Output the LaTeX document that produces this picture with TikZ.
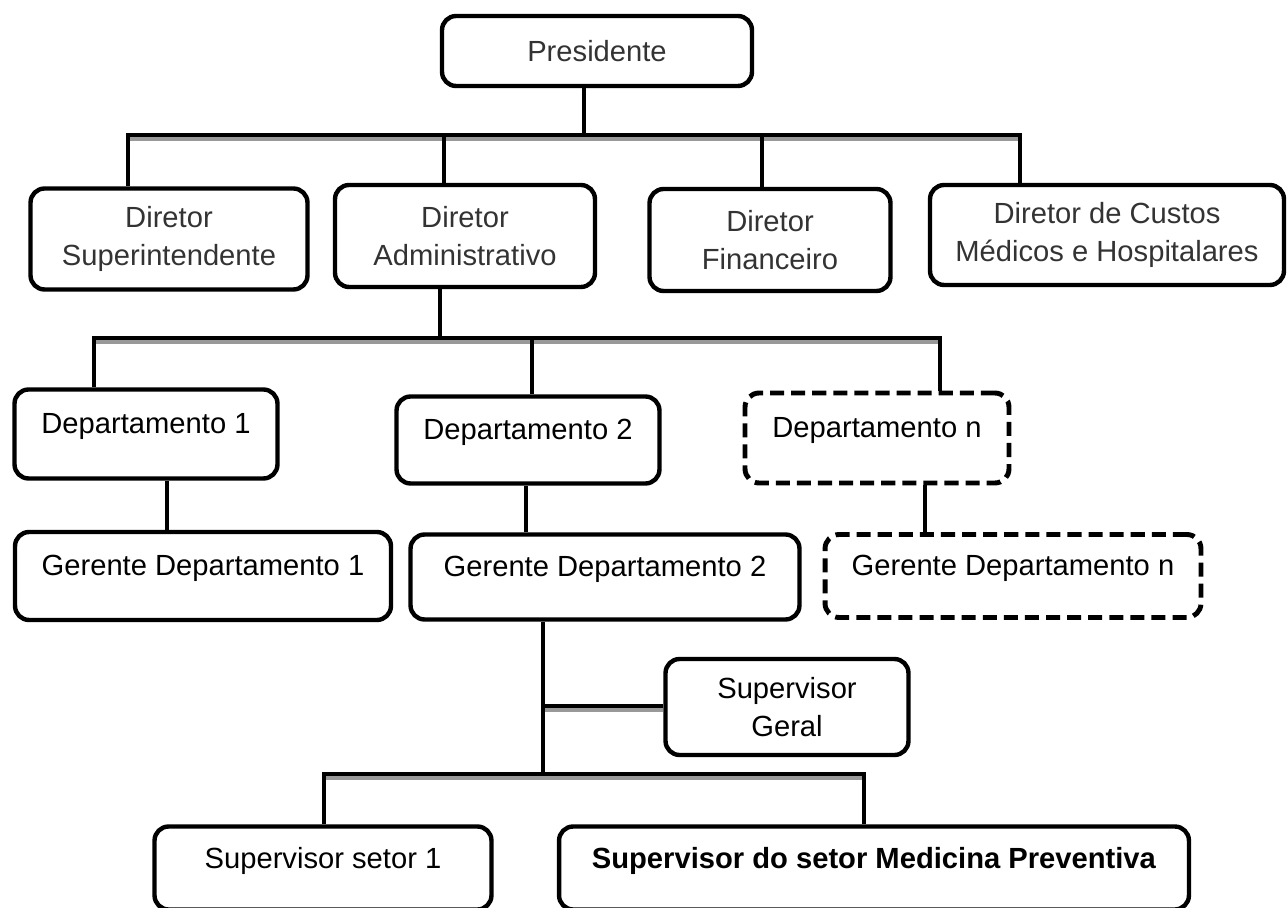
\documentclass[tikz,border=0pt]{standalone}
\usepackage{fontspec}
\setmainfont{Liberation Sans}

\begin{document}
\begin{tikzpicture}[
  x=0.02cm, y=-0.02cm,
  font=\fontsize{16.6}{21.6}\selectfont,
  box/.style={
    draw, line width=2.5pt, rounded corners=8pt,
    align=center, inner sep=0pt
  },
  dir/.style={box, text=black!80},
  upper/.style={box, text height=12pt, text depth=12pt},
  dashbox/.style={upper, line width=2.8pt, dash pattern=on 8pt off 4pt},
  edge/.style={line width=2.3pt},
  bus/.style={line width=2.6pt},
  busshade/.style={line width=2.3pt, color=black!40},
]
\useasboundingbox (0,0) rectangle (1288,908);

%%% Presidente and directors
\node[dir, minimum width=6.2cm, minimum height=1.4cm]  (pres) at (597,51)  {Presidente};
\node[dir, minimum width=5.54cm, minimum height=2.02cm] (sup) at (169,239) {Diretor\\Superintendente};
\node[dir, minimum width=5.2cm, minimum height=2.04cm]  (adm) at (465,236) {Diretor\\Administrativo};
\node[dir, minimum width=4.82cm, minimum height=2.04cm] (fin) at (770,240) {Diretor\\Financeiro};
\node[dir, minimum width=7.08cm, minimum height=2.0cm]  (cus) at (1107,235) {Diretor de Custos\\Médicos e Hospitalares};

%%% Departments
\node[upper, minimum width=5.26cm, minimum height=1.78cm] (d1) at (146,434) {Departamento 1};
\node[upper, minimum width=5.26cm, minimum height=1.74cm] (d2) at (528,440) {Departamento 2};
\node[dashbox, minimum width=5.28cm, minimum height=1.8cm] (dn) at (877,438) {Departamento n};

%%% Managers
\node[upper, minimum width=7.52cm, minimum height=1.76cm] (g1) at (203,576) {Gerente Departamento 1};
\node[upper, minimum width=7.78cm, minimum height=1.7cm]  (g2) at (605,577) {Gerente Departamento 2};
\node[dashbox, minimum width=7.52cm, minimum height=1.66cm] (gn) at (1013,576) {Gerente Departamento n};

%%% Supervisors
\node[box, minimum width=4.86cm, minimum height=1.92cm] (sg) at (787,707) {Supervisor\\Geral};
\node[upper, minimum width=6.74cm, minimum height=1.66cm] (s1) at (323,868) {Supervisor setor 1};
\node[upper, minimum width=12.6cm, minimum height=1.66cm] (smp) at (874,868) {\textbf{Supervisor do setor Medicina Preventiva}};

%%% Junctions
\coordinate (t0) at (584,135);
\coordinate (t1) at (128,135);
\coordinate (t2) at (444,135);
\coordinate (t3) at (762,135);
\coordinate (t4) at (1020,135);
\coordinate (a0) at (440,338);
\coordinate (a1) at (94,338);
\coordinate (a2) at (532,338);
\coordinate (a3) at (940,338);
\coordinate (k1) at (167,500);
\coordinate (k2) at (526,500);
\coordinate (k3) at (925,500);
\coordinate (m0) at (543,774);
\coordinate (m1) at (543,706);
\coordinate (m2) at (324,774);
\coordinate (m3) at (864,774);
\coordinate (m4) at (m1 -| sg.west);

%%% Shadows under the bars
\draw[busshade] ([shift={(0,4)}]t1) -- ([shift={(0,4)}]t4);
\draw[busshade] ([shift={(0,4)}]a1) -- ([shift={(0,4)}]a3);
\draw[busshade] ([shift={(0,4)}]m1) -- ([shift={(0,4)}]m4);
\draw[busshade] ([shift={(0,4)}]m2) -- ([shift={(0,4)}]m3);

%%% Level 1
\draw[edge] (t0 |- pres.south) -- (t0);
\draw[bus] (t1 |- sup.north) -- (t1) -- (t4) -- (t4 |- cus.north);
\draw[edge] (t2) -- (t2 |- adm.north);
\draw[edge] (t3) -- (t3 |- fin.north);

%%% Level 2
\draw[edge] (a0 |- adm.south) -- (a0);
\draw[bus] (a1 |- d1.north) -- (a1) -- (a3) -- (a3 |- dn.north);
\draw[edge] (a2) -- (a2 |- d2.north);

%%% Department to manager
\draw[edge] (k1 |- d1.south) -- (k1 |- g1.north);
\draw[edge] (k2 |- d2.south) -- (k2 |- g2.north);
\draw[edge] (k3 |- dn.south) -- (k3 |- gn.north);

%%% Supervisors
\draw[edge] (m0 |- g2.south) -- (m0);
\draw[bus] (m1) -- (m4);
\draw[bus] (m2 |- s1.north) -- (m2) -- (m3) -- (m3 |- smp.north);

\end{tikzpicture}
\end{document}
